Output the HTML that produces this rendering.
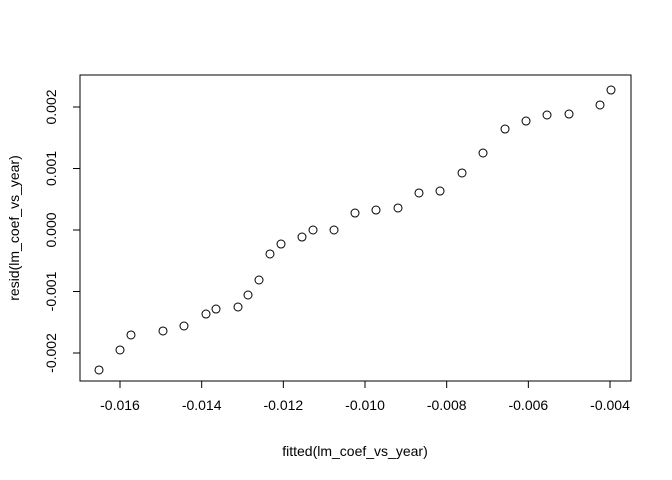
<!DOCTYPE html>
<html><head><meta charset="utf-8"><style>
body{margin:0;background:#fff}
svg{display:block;font-family:"Liberation Sans",Arial,sans-serif}
</style></head><body>
<svg id="chart" width="672" height="480">
<rect x="80" y="75" width="551" height="306" fill="none" stroke="#000" stroke-width="1"/>
<g id="xaxis"></g>
<g id="yaxis"></g>
<g id="points"></g>
<text x="355" y="456" text-anchor="middle" font-size="14">fitted(lm_coef_vs_year)</text>
<text transform="translate(19,228) rotate(-90)" text-anchor="middle" font-size="14">resid(lm_coef_vs_year)</text>
</svg>
<script>
const fittedValues=[-0.016514,-0.016,-0.015731,-0.014947,-0.014433,-0.013894,-0.013649,-0.01311,-0.012865,-0.012596,-0.012327,-0.012057,-0.011543,-0.011273,-0.010759,-0.010245,-0.009731,-0.009192,-0.008678,-0.008163,-0.007624,-0.00711,-0.006571,-0.006057,-0.005543,-0.005004,-0.004245,-0.003976];
const residValues=[-0.002276,-0.001951,-0.001707,-0.001642,-0.001561,-0.001366,-0.001285,-0.001252,-0.001057,-0.000813,-0.00039,-0.000228,-0.000114,0,0,0.000276,0.000325,0.000358,0.000602,0.000634,0.000927,0.001252,0.001642,0.001772,0.00187,0.001886,0.002033,0.002276];
const xTicks=[-0.016,-0.014,-0.012,-0.010,-0.008,-0.006,-0.004];
const xTickLabels=["-0.016","-0.014","-0.012","-0.010","-0.008","-0.006","-0.004"];
const yTicks=[-0.002,-0.001,0,0.001,0.002];
const yTickLabels=["-0.002","-0.001","0.000","0.001","0.002"];
const NS="http://www.w3.org/2000/svg";
function sx(v){return 120+(v+0.016)/0.002*81.67;}
function sy(v){return 230-v/0.001*61.5;}
function mk(t,a,p){const e=document.createElementNS(NS,t);for(const k in a)e.setAttribute(k,a[k]);p.appendChild(e);return e;}
const xa=document.getElementById('xaxis'),ya=document.getElementById('yaxis'),pg=document.getElementById('points');
mk('line',{x1:sx(xTicks[0]),x2:sx(xTicks[xTicks.length-1]),y1:381,y2:381,stroke:'#000'},xa);
xTicks.forEach((v,i)=>{const x=sx(v);
const l=mk('line',{x1:x,x2:x,y1:381,y2:388,stroke:'#000'},xa);


const t=mk('text',{x:x,y:410,'text-anchor':'middle','font-size':14},xa);t.textContent=xTickLabels[i];

});
mk('line',{x1:80,x2:80,y1:sy(yTicks[0]),y2:sy(yTicks[yTicks.length-1]),stroke:'#000'},ya);
yTicks.forEach((v,i)=>{const y=sy(v);
const l=mk('line',{x1:73,x2:80,y1:y,y2:y,stroke:'#000'},ya);


const t=mk('text',{transform:`translate(56,${y}) rotate(-90)`,'text-anchor':'middle','font-size':14},ya);t.textContent=yTickLabels[i];

});
fittedValues.forEach((v,i)=>{const c=mk('circle',{cx:sx(v),cy:sy(residValues[i]),r:4,fill:'none',stroke:'#000','stroke-width':1},pg);

});
</script>
</body></html>
